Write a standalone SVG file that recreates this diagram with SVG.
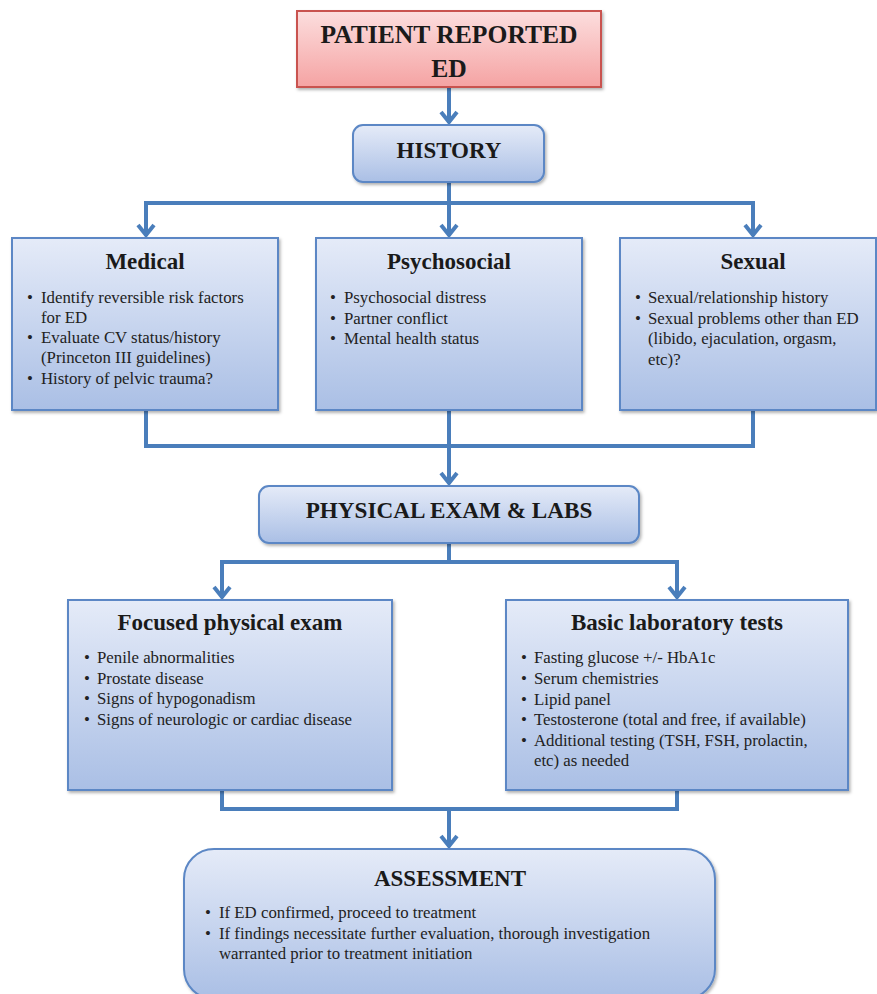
<svg xmlns="http://www.w3.org/2000/svg" width="877" height="994" viewBox="0 0 877 994">
<defs>
<linearGradient id="blue" x1="0" y1="0" x2="0" y2="1">
<stop offset="0" stop-color="#e5ebf8"/>
<stop offset="1" stop-color="#aabfe5"/>
</linearGradient>
<linearGradient id="pink" x1="0" y1="0" x2="0" y2="1">
<stop offset="0" stop-color="#fcdede"/>
<stop offset="1" stop-color="#f5a3a3"/>
</linearGradient>
<filter id="sh" x="-5%" y="-5%" width="112%" height="115%">
<feDropShadow dx="1.5" dy="2" stdDeviation="1.5" flood-color="#000" flood-opacity="0.3"/>
</filter>
<marker id="ah" markerUnits="userSpaceOnUse" markerWidth="30" markerHeight="30" viewBox="-15 -15 30 30" refX="0" refY="0" orient="auto">
<path d="M-11,-8 L-1,0 L-11,8" fill="none" stroke="#4a7ebb" stroke-width="4" stroke-linejoin="miter" stroke-linecap="butt"/>
</marker>
</defs>
<style>
.box{fill:url(#blue);stroke:#5b87c5;stroke-width:2;filter:url(#sh)}
.pbox{fill:url(#pink);stroke:#c9534f;stroke-width:2;filter:url(#sh)}
.t{font-family:"Liberation Serif","Times New Roman",serif;font-weight:bold;fill:#1a1a1a;text-anchor:middle}
.b{font-family:"Liberation Serif","Times New Roman",serif;font-size:16.8px;fill:#222}
.c{fill:none;stroke:#4a7ebb;stroke-width:4}
.a{marker-end:url(#ah)}
</style>
<rect width="877" height="994" fill="#fff"/>
<g id="connectors">
<path class="c a" d="M449,87 V123"/>
<path class="c" d="M449,182 V203 M144,203 H755"/>
<path class="c a" d="M146,203 V236"/>
<path class="c a" d="M449,203 V236"/>
<path class="c a" d="M753,203 V236"/>
<path class="c" d="M146,410 V446 H753 V410 M449,410 V446"/>
<path class="c a" d="M449,446 V484"/>
<path class="c" d="M449,543 V562 M220,562 H679"/>
<path class="c a" d="M222,562 V598"/>
<path class="c a" d="M677,562 V598"/>
<path class="c" d="M222,790 V809 H677 V790"/>
<path class="c a" d="M449,809 V847"/>
</g>
<g id="patient">
<rect class="pbox" x="297" y="11" width="304" height="76"/>
<text class="t" x="449" y="43" font-size="25.6">PATIENT REPORTED</text>
<text class="t" x="449" y="77" font-size="25.6">ED</text>
</g>
<g id="history">
<rect class="box" x="353" y="125" width="191" height="57" rx="10"/>
<text class="t" x="449" y="158" font-size="23">HISTORY</text>
</g>
<g id="medical">
<rect class="box" x="12" y="238" width="266" height="172"/>
<text class="t" x="145" y="269" font-size="23">Medical</text>
<text class="b"><tspan x="27" y="303">•</tspan><tspan x="41" y="303">Identify reversible risk factors</tspan><tspan x="41" y="323">for ED</tspan><tspan x="27" y="343">•</tspan><tspan x="41" y="343">Evaluate CV status/history</tspan><tspan x="41" y="363">(Princeton III guidelines)</tspan><tspan x="27" y="384">•</tspan><tspan x="41" y="384">History of pelvic trauma?</tspan></text>
</g>
<g id="psychosocial">
<rect class="box" x="316" y="238" width="266" height="172"/>
<text class="t" x="449" y="269" font-size="23">Psychosocial</text>
<text class="b"><tspan x="330" y="303">•</tspan><tspan x="344" y="303">Psychosocial distress</tspan><tspan x="330" y="324">•</tspan><tspan x="344" y="324">Partner conflict</tspan><tspan x="330" y="344">•</tspan><tspan x="344" y="344">Mental health status</tspan></text>
</g>
<g id="sexual">
<rect class="box" x="620" y="238" width="256" height="172"/>
<text class="t" x="753" y="269" font-size="23">Sexual</text>
<text class="b"><tspan x="635" y="303">•</tspan><tspan x="648" y="303">Sexual/relationship history</tspan><tspan x="635" y="324">•</tspan><tspan x="648" y="324">Sexual problems other than ED</tspan><tspan x="648" y="344">(libido, ejaculation, orgasm,</tspan><tspan x="648" y="365">etc)?</tspan></text>
</g>
<g id="physical">
<rect class="box" x="259" y="486" width="380" height="57" rx="10"/>
<text class="t" x="449" y="518" font-size="23.2">PHYSICAL EXAM &amp; LABS</text>
</g>
<g id="focused">
<rect class="box" x="68" y="600" width="324" height="190"/>
<text class="t" x="230" y="630" font-size="23">Focused physical exam</text>
<text class="b"><tspan x="84" y="663">•</tspan><tspan x="97" y="663">Penile abnormalities</tspan><tspan x="84" y="684">•</tspan><tspan x="97" y="684">Prostate disease</tspan><tspan x="84" y="704">•</tspan><tspan x="97" y="704">Signs of hypogonadism</tspan><tspan x="84" y="725">•</tspan><tspan x="97" y="725">Signs of neurologic or cardiac disease</tspan></text>
</g>
<g id="labs">
<rect class="box" x="506" y="600" width="342" height="190"/>
<text class="t" x="677" y="630" font-size="23">Basic laboratory tests</text>
<text class="b"><tspan x="521" y="663">•</tspan><tspan x="534" y="663">Fasting glucose +/- HbA1c</tspan><tspan x="521" y="684">•</tspan><tspan x="534" y="684">Serum chemistries</tspan><tspan x="521" y="705">•</tspan><tspan x="534" y="705">Lipid panel</tspan><tspan x="521" y="725">•</tspan><tspan x="534" y="725">Testosterone (total and free, if available)</tspan><tspan x="521" y="746">•</tspan><tspan x="534" y="746">Additional testing (TSH, FSH, prolactin,</tspan><tspan x="534" y="766">etc) as needed</tspan></text>
</g>
<g id="assessment">
<rect class="box" x="184" y="849" width="531" height="150" rx="30"/>
<text class="t" x="450" y="886" font-size="23">ASSESSMENT</text>
<text class="b"><tspan x="205" y="918">•</tspan><tspan x="219" y="918">If ED confirmed, proceed to treatment</tspan><tspan x="205" y="939">•</tspan><tspan x="219" y="939">If findings necessitate further evaluation, thorough investigation</tspan><tspan x="219" y="959">warranted prior to treatment initiation</tspan></text>
</g>
</svg>
